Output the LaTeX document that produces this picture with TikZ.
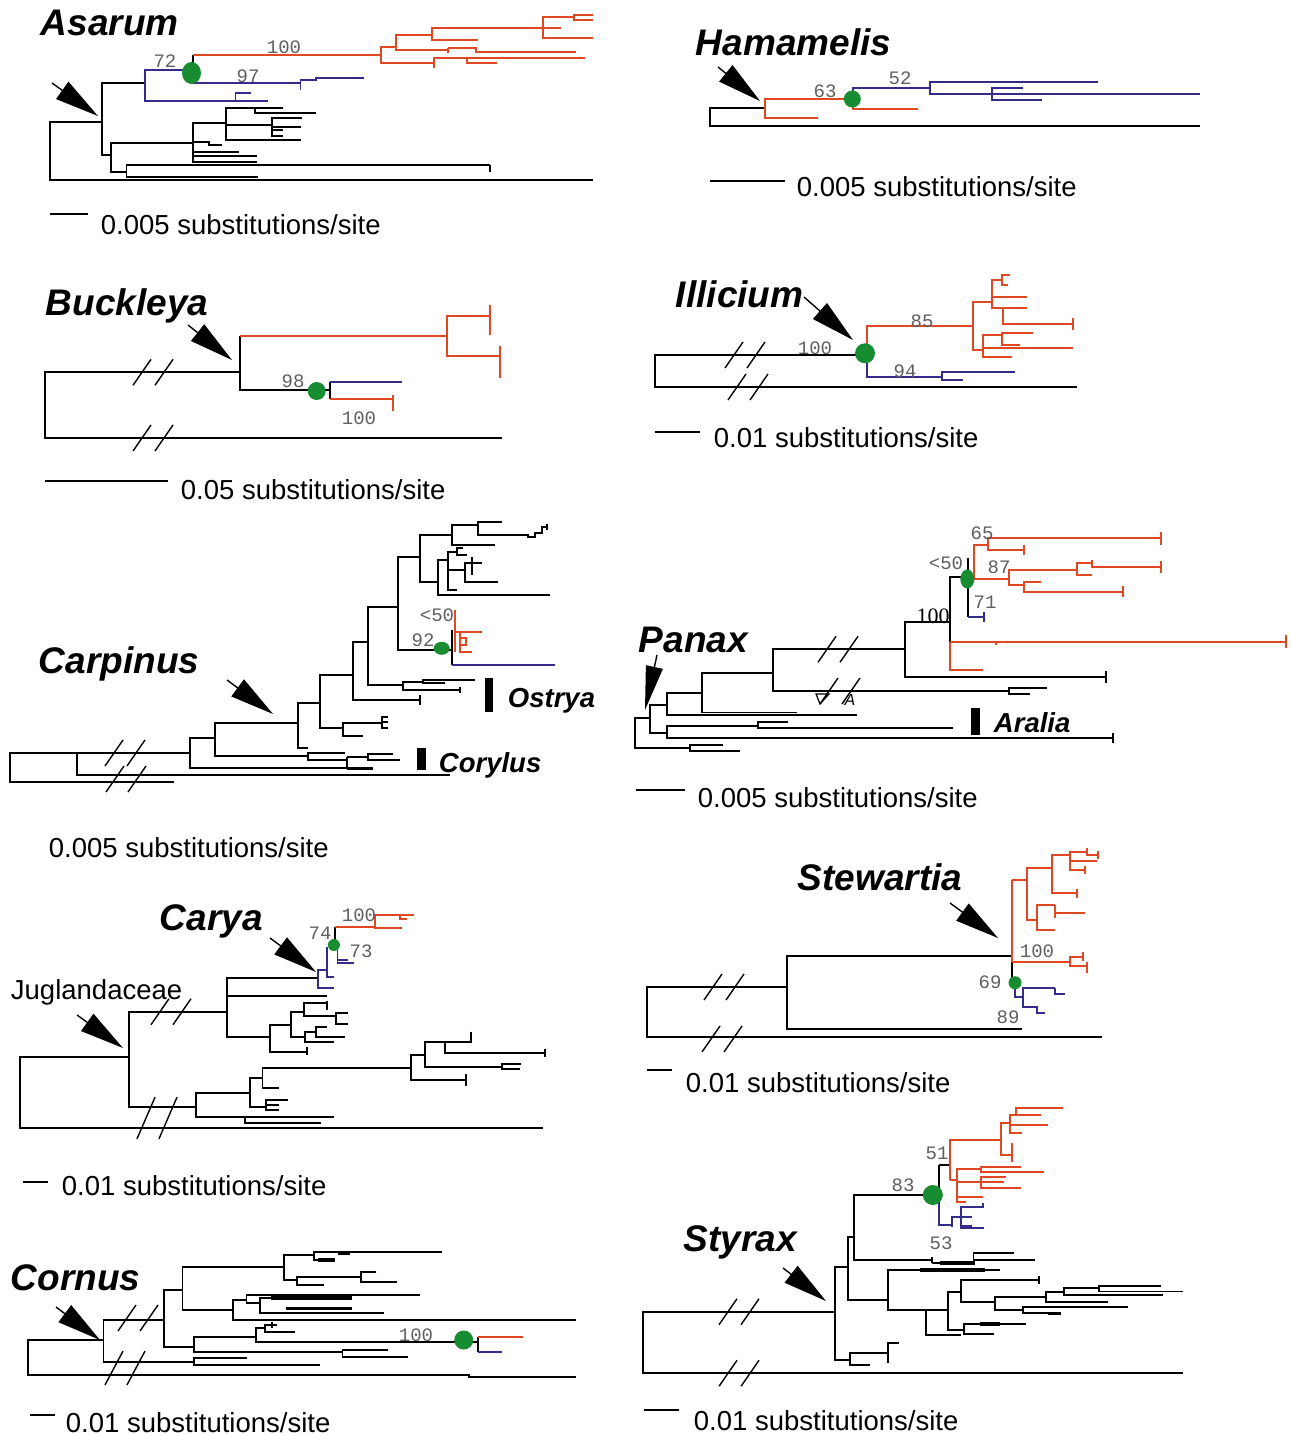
\documentclass[tikz,border=0pt]{standalone}
\usepackage{fontspec}
\setmainfont{Liberation Sans}
\newfontfamily\bootfont{Liberation Mono}
\newfontfamily\serfont{Liberation Serif}
\usepackage{tikz}
\usetikzlibrary{arrows.meta}
\definecolor{TREE-RED}{RGB}{224, 72, 36}
\definecolor{TREE-BLUE}{RGB}{52, 44, 138}
\definecolor{TREE-GREEN}{RGB}{24, 140, 48}
\definecolor{BOOT-GRAY}{RGB}{95, 95, 95}

% two slashes across a cut branch
\newcommand{\brk}[2][1]{%
  \begin{scope}[shift={#2}]
    \draw[line width=1.4pt] (-20,13*#1) -- (-2,-13*#1);
    \draw[line width=1.4pt] (2,13*#1) -- (20,-13*#1);
  \end{scope}}

\tikzset{
  br/.style={black},
  rb/.style={TREE-RED},
  bb/.style={TREE-BLUE},
  dot/.style={fill=TREE-GREEN},
  bigarrow/.style={line width=1.4pt, -{Triangle[length=44pt,width=21pt]}},
  genus/.style={anchor=base west, inner sep=0pt, font=\fontsize{37}{40}\selectfont\bfseries\itshape},
  taxon/.style={anchor=base west, inner sep=0pt, font=\fontsize{27.5}{30}\selectfont\bfseries\itshape},
  scaletxt/.style={anchor=base west, inner sep=0pt, font=\fontsize{27.5}{30}\selectfont},
  boot/.style={inner sep=0pt, text=BOOT-GRAY, font=\bootfont\fontsize{19}{20}\selectfont},
}

\begin{document}
\begin{tikzpicture}[x=1pt, y=-1pt, line width=1.9pt]
  \fill[white] (0,0) rectangle (1291,1435);
  \useasboundingbox (0,0) rectangle (1291,1435);

  % Asarum panel
  \node[genus] (asarum) at (40,35) {Asarum};
  \draw[br] (101.6,121.7) -| (50,180) -- (593,180);
  \draw[br] (144.8,83.3) -| (101.6,155) -- (111.2,155);
  \draw[br] (193.4,143.3) -| (111.2,171.7) -- (126.5,171.7);
  \draw[br] (489.8,165) -| (126.5,176.7) -- (258.4,176.7);
  \draw[br] (489.8,165) -- (489.8,171.7);
  \draw[br] (225.9,123.3) -| (193.4,161.7) -- (256.5,161.7);
  \draw[br] (193.4,141.7) -- (208.7,141.7) |- (222.1,145);
  \draw[br] (193.4,151.7) -- (239.3,151.7);
  \draw[br] (193.4,155.7) -- (256.5,155.7);
  \draw[br] (254.6,108.3) -| (225.9,140) -- (300.5,140);
  \draw[br] (283.3,108.3) -| (254.6,112.7) -- (315.8,112.7);
  \draw[br] (225.9,125) -- (271.8,125);
  \draw[br] (302.4,118.3) -| (271.8,136) -- (283.3,136);
  \draw[br] (271.8,126.7) -- (300.5,126.7);
  \draw[br] (271.8,130) -- (283.3,130);
  \draw[bb] (191.5,70) -| (144.8,100.7) -- (268,100.7);
  \draw[bb] (250.8,93.3) -| (235.5,100.7);
  \draw[bb] (193.4,83.3) -- (300.5,83.3);
  \draw[bb] (300.5,90) -- (300.5,80) -- (315.8,80) -- (315.8,77.7) -- (363.6,77.7);
  \draw[br] (193.4,55) -- (193.4,83.3);
  \draw[rb] (193.4,55) -- (380.8,55);
  \draw[rb] (396.1,46.7) -| (380.8,63.3) -- (434.3,63.3);
  \draw[rb] (432.4,35) -| (396.1,50) -- (447.8,50);
  \draw[rb] (543.3,28.3) -| (432.4,40) -- (478.3,40);
  \draw[rb] (573.9,16.7) -| (543.3,38.3) -- (593,38.3);
  \draw[rb] (543.3,28.3) -- (560.5,28.3);
  \draw[rb] (593,15) -| (573.9,20) -- (593,20);
  \draw[rb] (447.8,48.3) -- (476.4,48.3) |- (575.8,51.7);
  \draw[rb] (447.8,48.3) -- (447.8,53.3);
  \draw[rb] (466.8,58.3) -| (434.3,68.3);
  \draw[rb] (585.4,58.3) -| (466.8,63.3) -- (497.4,63.3);
  \fill[dot] (191.5,73) ellipse (9.5 and 11);
  \node[boot] (asarum-b72) at (165,61) {72};
  \node[boot] (asarum-b100) at (284,47) {100};
  \node[boot] (asarum-b97) at (248,76) {97};
  \draw[bigarrow] (52,83) -- (98,116);
  \draw (50,214) -- (88,214);
  \node[scaletxt] (asarum-scale) at (100,234) {0.005 substitutions/site};

  % Hamamelis panel
  \node[genus] (hamamelis) at (695,55) {Hamamelis};
  \draw[br] (765,107.7) -| (710,126) -- (1200,126);
  \draw[rb] (852,99.3) -| (765,117.7) -- (818.3,117.7);
  \draw[bb] (930,87.7) -| (853.3,99.3);
  \draw[rb] (853.3,99.3) |- (918.3,109.3);
  \draw[bb] (1098.3,82) -| (930,94.3) -- (1200,94.3);
  \draw[bb] (1023.3,88.3) -| (991.7,100) -- (1041.7,100);
  \fill[dot] (852.3,99) circle (8.5);
  \node[boot] (hamamelis-b63) at (825,91) {63};
  \node[boot] (hamamelis-b52) at (900,78) {52};
  \draw[bigarrow] (718,67) -- (760,101);
  \draw (710,181) -- (785,181);
  \node[scaletxt] (hamamelis-scale) at (796,196) {0.005 substitutions/site};

  % Buckleya panel
  \node[genus] (buckleya) at (45,315) {Buckleya};
  \draw[br] (240,372.3) -| (45,438) -- (502,438);
  \draw[br] (240,336.3) -- (240,389.7) -- (330,389.7);
  \draw[rb] (240,336.3) -- (446.7,336.3);
  \draw[rb] (490,316.3) -| (446.7,356.3) -- (500,356.3);
  \draw[rb] (490,304.7) -- (490,334.7);
  \draw[rb] (500,346.3) -- (500,376.3);
  \draw[rb, line width=2.8pt] (500,367) -- (500,378);
  \draw[br] (330,382) -- (330,399);
  \draw[bb] (330,382) -- (401.7,382);
  \draw[rb] (330,399) -- (393.3,399);
  \draw[rb] (393.3,394.7) -- (393.3,410.7);
  \fill[dot] (316.7,391) circle (9);
  \brk{(153,372.3)}
  \brk{(153,438)}
  \node[boot] (buckleya-b98) at (293,381) {98};
  \node[boot] (buckleya-b100) at (359,418) {100};
  \draw[bigarrow] (188,325) -- (232,360);
  \draw (45,481) -- (168,481);
  \node[scaletxt] (buckleya-scale) at (180,499) {0.05 substitutions/site};

  % Illicium panel
  \node[genus] (illicium) at (675,307) {Illicium};
  \draw[br] (862,355) -| (655,386.7) -- (1077,386.7);
  \brk{(745,355)}
  \brk{(748,387)}
  \draw[rb] (973.3,326) -| (866.7,353);
  \draw[bb] (866.7,353) |- (941.7,376.7);
  \draw[bb] (1015,371.7) -| (941.7,380) -- (963.3,380);
  \draw[rb] (991.7,301.7) -| (973.3,350) -- (983.3,350);
  \draw[rb] (1001.7,280) -| (991.7,308.3) -- (1003.3,308.3);
  \draw[rb] (991.7,296.7) -- (1026.7,296.7);
  \draw[rb] (1010,275) -| (1001.7,285) -- (1008.3,285);
  \draw[rb] (1026.7,308.3) -| (1003.3,324.3) -- (1073.3,324.3);
  \draw[rb] (1073.3,318) -- (1073.3,330);
  \draw[rb] (1001.7,335) -| (983.3,356.7) -- (1011.7,356.7);
  \draw[rb] (983.3,348.3) -- (1073.3,348.3);
  \draw[rb] (1033.3,333.3) -| (1001.7,345) -- (1020,345);
  \fill[dot] (865,353.3) circle (10);
  \node[boot] (illicium-b100) at (815,348) {100};
  \node[boot] (illicium-b85) at (922,321) {85};
  \node[boot] (illicium-b94) at (905,371) {94};
  \draw[bigarrow] (804,297) -- (853,340);
  \draw (655,432) -- (700,432);
  \node[scaletxt] (illicium-scale) at (713,447) {0.01 substitutions/site};

  % Carpinus panel
  \node[genus] (carpinus) at (38,673) {Carpinus};
  \draw[br] (190,753) -| (10,781.7) -- (174.4,781.7);
  \draw[br] (76.9,753) |- (450,775);
  \brk{(125,753)}
  \brk{(126,779)}
  \draw[br] (215,738.3) -| (190,768.3) -- (346.7,768.3);
  \draw[br, line width=3.2pt] (346.7,768.3) -- (373,768.3);
  \draw[br] (298.3,723.3) -| (215,756) -- (308.3,756);
  \draw[br] (345,752.7) -| (308.3,760) -- (346.7,760);
  \draw[br] (346.7,756.7) -- (346.7,768.3);
  \draw[br] (346.7,756.7) -- (368.3,756.7);
  \draw[br] (393.3,754) -| (368.3,760) -- (400,760);
  \draw[br] (320,703.3) -| (298.3,748.3) -- (308.3,748.3);
  \draw[br] (353.3,675) -| (320,728.3) -- (343.3,728.3);
  \draw[br] (381.7,723.3) -| (343.3,736) -- (363.3,736);
  \draw[br] (388.3,716.7) -| (381.7,728.3) -- (388.3,728.3);
  \draw[br] (381.7,722.3) -- (388.3,722.3);
  \draw[br] (368.3,641.7) -| (353.3,700) -- (420,700);
  \draw[br] (420,695) -- (420,705);
  \draw[br] (398.3,606.7) -| (368.3,685) -- (403.3,685);
  \draw[br] (423.3,681.7) -| (403.3,690) -- (460,690);
  \draw[br] (460,686.7) -- (460,693.3);
  \draw[br] (475,680) -| (423.3,683.3) -- (445,683.3);
  \draw[br] (420,556.7) -| (398.3,650) -- (451.7,650);
  \draw[br] (451.7,535) -| (420,581.7) -- (438.3,581.7);
  \draw[br] (478.3,525) -| (451.7,545) -- (495,545);
  \draw[br] (501.7,521.7) -| (478.3,535) -- (528.3,535) -- (528.3,537.3) -- (535,537.3)
    -- (535,532.7) -- (541.7,532.7) -- (541.7,527.3) -- (546.7,527.3);
  \draw[br] (546.7,524) -- (546.7,530);
  \draw[br] (448.3,560) -| (438.3,595) -- (550,595);
  \draw[br] (456.7,551.7) -| (448.3,590) -- (456.7,590);
  \draw[br] (448.3,570) -- (465,570);
  \draw[br] (463,548.3) -| (456.7,555) -- (467,555);
  \draw[br] (481.7,563.3) -| (465,581.7) -- (498.3,581.7);
  \draw[br] (471.7,556.7) -- (471.7,575);
  \draw[br] (451.7,630) -- (451.7,665);
  \draw[bb] (451.7,665) -- (555,665);
  \draw[rb] (455,610) -- (455,651.7);
  \draw[rb] (455,631.7) -- (481.7,631.7);
  \draw[rb] (460,631.7) -- (460,651.7) -- (472,651.7);
  \draw[rb] (460,638) -- (466,638) -- (466,645) -- (460,645);
  \fill[dot] (441.7,648.3) ellipse (8 and 6.5);
  \node[boot] (carpinus-b50) at (437,615) {<50};
  \node[boot] (carpinus-b92) at (423,640) {92};
  \fill (485,678) rectangle (493,712);
  \node[taxon] (ostrya) at (507,707) {Ostrya};
  \fill (417,748) rectangle (426,770);
  \node[taxon] (corylus) at (438,772) {Corylus};
  \draw[bigarrow] (227,680) -- (273,714);
  \node[scaletxt] (carpinus-scale) at (48,857) {0.005 substitutions/site};

  % Panax panel
  \node[genus] (panax) at (638,652) {Panax};
  \draw[br] (650,718.3) -| (635,748.3) -- (690,748.3);
  \draw[br] (723.3,745) -| (690,751) -- (740,751);
  \draw[br] (666.7,705) -| (650,733.3) -- (666.7,733.3);
  \draw[br] (758.3,725.7) -| (666.7,738.3) -- (1113,738.3);
  \draw[br] (1113,733) -- (1113,743);
  \draw[br] (788.3,722.3) -| (758.3,727.7) -- (953.3,727.7);
  \draw[br] (701.7,692.7) -| (666.7,715) -- (856.7,715);
  \draw[br] (773.3,672.7) -| (701.7,712.5) -- (796.7,712.5);
  \draw[br] (905,649.3) -| (773.3,691) -- (1009.4,691);
  \draw[br] (1047.4,688) -| (1009.4,694) -- (1030,694);
  \brk{(838,649.3)}
  \brk{(840,691)}
  \draw[line width=1.2pt] (816,694) -- (829,694) -- (820,704) -- cycle;
  \node[inner sep=0pt, font=\fontsize{16}{18}\selectfont\itshape] (panax-a) at (850,700) {A};
  \draw[br] (950,621.7) -| (905,677.3) -- (1106.4,677.3);
  \draw[br] (1106.4,671) -- (1106.4,683);
  \draw[br] (962,577) -| (950,641.7);
  \draw[rb] (950,641.7) -- (1285.6,641.7);
  \draw[rb] (1285.6,635) -- (1285.6,648);
  \draw[rb] (996,641.7) -- (996,645);
  \draw[rb] (950,641.7) |- (983.3,670);
  \draw[br] (968.3,558.3) -- (968.3,617.3);
  \draw[bb] (968.3,617.3) -- (984,617.3);
  \draw[bb] (984,612) -- (984,622);
  \draw[rb] (988.3,545) -| (973.6,579.3) -- (1009.4,579.3);
  \draw[rb] (1161.2,538.3) -| (988.3,550) -- (1024.2,550);
  \draw[rb] (1161.2,532) -- (1161.2,545);
  \draw[rb] (1024.2,545) -- (1024.2,555);
  \draw[rb] (1076.9,570) -| (1009.4,585) -- (1024.2,585);
  \draw[rb] (1091.6,562.7) -| (1076.9,575) -- (1091.6,575);
  \draw[rb] (1091.6,560) -- (1091.6,567.3) -- (1161.2,567.3);
  \draw[rb] (1161.2,561) -- (1161.2,573);
  \draw[rb] (1041,581.7) -| (1024.2,591.7) -- (1123.3,591.7);
  \draw[rb] (1123.3,586) -- (1123.3,597);
  \fill[dot] (967.3,579) ellipse (7 and 9.5);
  \node[boot] (panax-b65) at (982,533) {65};
  \node[boot] (panax-b50) at (946,563) {<50};
  \node[boot] (panax-b87) at (999,567) {87};
  \node[boot] (panax-b71) at (985,602) {71};
  \node[inner sep=0pt, font=\serfont\fontsize{22}{24}\selectfont] (panax-b100) at (933,616) {100};
  \fill (971,708) rectangle (980,735);
  \node[taxon] (aralia) at (993,732) {Aralia};
  \draw[bigarrow, -{Triangle[length=44pt,width=17pt]}] (657,655) -- (645,710);
  \draw (636,790) -- (685,790);
  \node[scaletxt] (panax-scale) at (697,807) {0.005 substitutions/site};

  % Carya panel
  \node[genus] (carya) at (159,930) {Carya};
  \node[scaletxt] (juglandaceae) at (10,999) {Juglandaceae};
  \draw[br] (128.6,1056.7) -| (19.6,1128.3) -- (542.9,1128.3);
  \draw[br] (226.8,1011.7) -| (128.6,1106.7) -- (196.4,1106.7);
  \brk{(171,1011.7)}
  \brk[1.6]{(157,1118)}
  \draw[br] (317.9,978.3) -| (226.8,1036.7) -- (269.6,1036.7);
  \draw[br] (226.8,996) -- (326.8,996);
  \draw[br] (291.1,1025) -| (269.6,1051.7) -- (307.1,1051.7);
  \draw[br] (307.1,1047) -- (307.1,1055);
  \draw[br] (303.6,1011.7) -| (291.1,1036.7) -- (305.4,1036.7);
  \draw[br] (326.8,1003.3) -| (303.6,1016) -- (335.7,1016);
  \draw[br] (326.8,1001) -- (326.8,1010);
  \draw[br] (348.2,1013.3) -| (335.7,1024) -- (348.2,1024);
  \draw[br] (316,1031.7) -| (305.4,1041.7) -- (333.9,1041.7);
  \draw[br] (326.8,1026.7) -| (316,1036.7) -- (344.6,1036.7);
  \draw[br] (250,1093.3) -| (196.4,1116.7) -- (244.6,1116.7);
  \draw[br] (333.9,1116.7) -| (244.6,1123.3) -- (321.4,1123.3);
  \draw[br] (262.5,1078.3) -| (250,1106.7) -- (266.1,1106.7);
  \draw[br] (410.7,1068.3) -| (262.5,1088.3) -- (278.6,1088.3);
  \draw[br] (287.5,1100) -| (266.1,1110) -- (278.6,1110);
  \draw[br] (266.1,1105) -- (278.6,1105);
  \draw[br] (425,1055) -| (410.7,1080) -- (466.1,1080);
  \draw[br] (466.1,1074) -- (466.1,1086);
  \draw[br] (444.6,1041.7) -| (425,1066.7) -- (501.8,1066.7);
  \draw[br] (521.4,1064) -| (501.8,1069.3) -- (519.6,1069.3);
  \draw[br] (471.4,1041.7) -| (444.6,1053.3) -- (544.6,1053.3);
  \draw[br] (471.4,1031.7) -- (471.4,1043.3);
  \draw[br] (544.6,1049) -- (544.6,1057);
  \draw[bb] (326.8,947) -- (326.8,976.7) -- (333.9,976.7);
  \draw[bb] (326.8,970) -| (317.9,988.3) -- (333.9,988.3);
  \draw[br] (335,926.7) -- (335,945);
  \draw[rb] (335,926.7) -- (375,926.7);
  \draw[rb] (400,915) -| (375,928.3) -- (401.8,928.3);
  \draw[rb] (400,915) -- (414.3,915);
  \draw[rb] (400,915) -- (400,919) -- (407,919);
  \draw[bb] (337.5,950) |- (353.6,963.3);
  \draw[bb] (337.5,960) -- (348.2,960);
  \fill[dot] (333.9,945) circle (6);
  \node[boot] (carya-b74) at (320,933) {74};
  \node[boot] (carya-b100) at (359,915) {100};
  \node[boot] (carya-b73) at (361,951) {73};
  \draw[bigarrow] (270,938) -- (316,972);
  \draw[bigarrow] (77,1015) -- (123,1048);
  \draw (23,1182) -- (48,1182);
  \node[scaletxt] (carya-scale) at (61,1195) {0.01 substitutions/site};

  % Stewartia panel
  \node[genus] (stewartia) at (797,890) {Stewartia};
  \draw[br] (786.7,986.7) -| (646.7,1036.7) -- (1101.7,1036.7);
  \brk{(724,987)}
  \brk{(722,1039)}
  \draw[br] (1011.7,956) -| (786.7,1029.3) -- (1021.7,1029.3);
  \draw[rb] (1011.7,880) -- (1011.7,961.7);
  \draw[br] (1011.7,961.7) -- (1011.7,983);
  \draw[rb] (1011.7,961.7) -- (1070,961.7);
  \draw[rb] (1083.3,956.7) -| (1070,966) -- (1086.7,966);
  \draw[rb] (1083.3,952) -- (1083.3,961);
  \draw[rb] (1086.7,962) -- (1086.7,973);
  \draw[rb] (1011.7,880) -- (1026.7,880);
  \draw[rb] (1051.7,868.3) -| (1026.7,920) -- (1036.7,920);
  \draw[rb] (1070,855) -| (1051.7,893.3) -- (1076.7,893.3);
  \draw[rb] (1076.7,889) -- (1076.7,898);
  \draw[rb] (1086.7,851.7) -| (1070,870) -- (1085,870);
  \draw[rb] (1085,866) -- (1085,874);
  \draw[rb] (1070,861) -- (1096.7,861);
  \draw[rb] (1086.7,848) -- (1086.7,855) -- (1098,855);
  \draw[rb] (1098,851) -- (1098,859);
  \draw[rb] (1055,905) -| (1036.7,930) -- (1055,930);
  \draw[rb] (1055,905) -- (1055,918);
  \draw[rb] (1055,912.7) -- (1085,912.7);
  \draw[bb] (1015,988) -- (1015,996.7) -- (1023.3,996.7);
  \draw[bb] (1055,988.3) -| (1023.3,1006.7) -- (1036.7,1006.7) |- (1045,1012.7);
  \draw[bb] (1055,988.3) |- (1065,994);
  \fill[dot] (1015,982.7) circle (6.5);
  \node[boot] (stewartia-b100) at (1037,951) {100};
  \node[boot] (stewartia-b69) at (990,982) {69};
  \node[boot] (stewartia-b89) at (1008,1017) {89};
  \draw[bigarrow] (950,903) -- (998,938);
  \draw (647,1070) -- (672,1070);
  \node[scaletxt] (stewartia-scale) at (685,1092) {0.01 substitutions/site};

  % Cornus panel
  \node[genus] (cornus) at (10,1290) {Cornus};
  \draw[br] (103.5,1340) -| (28.2,1375) -- (468.6,1375) -- (468.6,1377) -- (575.8,1377);
  \draw[br] (163.7,1320) -| (103.5,1361.7) -- (193.8,1361.7);
  \draw[br] (246.5,1358.3) -| (193.8,1365) -- (319.9,1365);
  \brk{(138,1318)}
  \brk[1.3]{(125,1368)}
  \draw[br] (182.5,1290) -| (163.7,1346.7) -- (193.8,1346.7);
  \draw[br] (284.2,1266.7) -| (182.5,1310) -- (233.3,1310);
  \draw[br] (314.3,1255) -| (284.2,1280) -- (297.3,1280);
  \draw[br] (442.2,1252) -| (314.3,1260) -- (335,1260);
  \draw[br, line width=3.2pt] (318,1260) -- (335,1260);
  \draw[br, line width=3.2pt] (338,1253) -- (350,1253);
  \draw[br] (361.3,1276.7) -| (297.3,1285) -- (323.7,1285);
  \draw[br] (376.4,1272) -| (361.3,1282) -- (397,1282);
  \draw[br] (246.5,1300) -| (233.3,1320) -- (575.8,1320);
  \draw[br] (419.7,1295) -| (246.5,1303.3) -- (259.7,1303.3);
  \draw[br] (351.9,1298) -| (259.7,1312.7) -- (383.9,1312.7);
  \draw[br, line width=3.2pt] (271,1298) -- (352,1298);
  \draw[br, line width=3.2pt] (286,1308.5) -- (352,1308.5);
  \draw[br] (255.9,1336.7) -| (193.8,1351.7) -- (342.5,1351.7);
  \draw[br] (265,1328.3) -| (255.9,1341.7) -- (455,1341.7);
  \draw[br] (276.6,1325) -| (265,1331.7) -- (295.4,1331.7);
  \draw[br] (272,1322) -- (272,1328);
  \draw[br] (387.6,1350) -| (342.5,1356.7) -- (408.3,1356.7);
  \draw[br] (463.7,1341.7) -- (478,1341.7);
  \draw[br] (478,1337.3) -- (478,1351.7);
  \draw[rb] (478,1337.3) -- (523.1,1337.3);
  \draw[bb] (478,1351.7) -- (502.4,1351.7);
  \fill[dot] (463.7,1340) circle (9.5);
  \node[boot] (cornus-b100) at (416,1335) {100};
  \draw[bigarrow] (56,1307) -- (100,1340);
  \draw (30,1415) -- (55,1415);
  \node[scaletxt] (cornus-scale) at (65,1432) {0.01 substitutions/site};

  % Styrax panel
  \node[genus] (styrax) at (683,1251) {Styrax};
  \draw[br] (835.4,1311.7) -| (642.7,1373.3) -- (1182.5,1373.3);
  \brk{(739,1311.7)}
  \brk{(739,1373.3)}
  \draw[br] (848.1,1266.7) -| (835.4,1360) -- (849.9,1360);
  \draw[br] (888.1,1353.3) -| (849.9,1365) -- (869.9,1365);
  \draw[br] (899,1343.3) -| (888.1,1363.3);
  \draw[br] (853.6,1236.7) -| (848.1,1300) -- (888.1,1300);
  \draw[br] (924,1195) -| (853.6,1260) -- (931.7,1260);
  \draw[br] (1013.5,1252.7) -| (973.5,1263) -- (931.7,1263);
  \draw[br] (931.7,1257) -- (931.7,1263);
  \draw[br] (973.5,1260) -- (1035.3,1260);
  \draw[br, line width=3.2pt] (940,1263) -- (975,1263);
  \draw[br] (1000,1270) -| (888.1,1310) -- (926.3,1310);
  \draw[br, line width=3.2pt] (920,1270) -- (985,1270);
  \draw[br] (926.3,1310) -- (948.1,1310);
  \draw[br] (926.3,1310) |- (960.8,1335);
  \draw[br] (960.8,1291.7) -| (948.1,1330) -- (964.4,1330);
  \draw[br] (1039,1280) -| (960.8,1301.7) -- (995.3,1301.7);
  \draw[br] (1039,1276) -- (1039,1284);
  \draw[br] (1046.2,1296.7) -| (995.3,1310) -- (1022.6,1310);
  \draw[br] (1064.4,1291.7) -| (1046.2,1301.7) -- (1108,1301.7);
  \draw[br] (1098.9,1288.3) -| (1064.4,1295) -- (1162.5,1295);
  \draw[br] (1160.7,1286) -| (1098.9,1291.5) -- (1182.5,1291.5);
  \draw[br] (1128,1306.7) -| (1022.6,1313.3) -- (1060.7,1313.3);
  \draw[br, line width=3.2pt] (1048,1313.3) -- (1060.7,1313.3);
  \draw[br] (1026,1324) -| (964.4,1334) -- (994,1334);
  \draw[br, line width=3.2pt] (980,1324) -- (1000,1324);
  \draw[br] (939,1165) -- (939,1203);
  \draw[br] (939,1165) -- (949.9,1165);
  \draw[rb] (949.9,1180) -- (949.9,1140) -- (1000.8,1140);
  \draw[rb] (949.9,1180) -- (957.2,1180);
  \draw[rb] (980.8,1169) -| (957.2,1201.7) -- (966.2,1201.7);
  \draw[rb] (1020.8,1166.7) -| (980.8,1171.7) -- (1044.4,1171.7);
  \draw[rb] (957.2,1182) -- (980.8,1182);
  \draw[rb] (1006.2,1176.7) -| (980.8,1188.3) -- (1020.8,1188.3);
  \draw[rb] (980.8,1182) -- (1004,1182);
  \draw[rb] (957.2,1196.7) -- (982.6,1196.7);
  \draw[rb] (1009.9,1123.3) -| (1000.8,1155) -- (1011.7,1155);
  \draw[rb] (1011.7,1143) -- (1011.7,1161.7);
  \draw[rb] (1040.8,1115) -| (1009.9,1133) -- (1022,1133);
  \draw[rb] (1009.9,1125) -- (1048,1125);
  \draw[rb] (1016,1115) -- (1016,1108) -- (1063,1108);
  \draw[bb] (939,1203) |- (951.7,1225);
  \draw[bb] (960.8,1216.7) -| (951.7,1226.7);
  \draw[bb] (982.6,1206.7) -| (960.8,1228.3) -- (984.4,1228.3);
  \draw[bb] (960.8,1216.7) -- (972,1216.7);
  \draw[bb] (982.6,1203) -- (982.6,1208);
  \draw[bb, line width=2.8pt] (962,1226.5) -- (972,1226.5);
  \fill[dot] (932.8,1195) circle (10);
  \node[boot] (styrax-b51) at (937,1153) {51};
  \node[boot] (styrax-b83) at (903,1185) {83};
  \node[boot] (styrax-b53) at (941,1243) {53};
  \draw[bigarrow] (783,1268) -- (826,1301);
  \draw (644,1410) -- (679,1410);
  \node[scaletxt] (styrax-scale) at (693,1430) {0.01 substitutions/site};
\end{tikzpicture}
\end{document}
